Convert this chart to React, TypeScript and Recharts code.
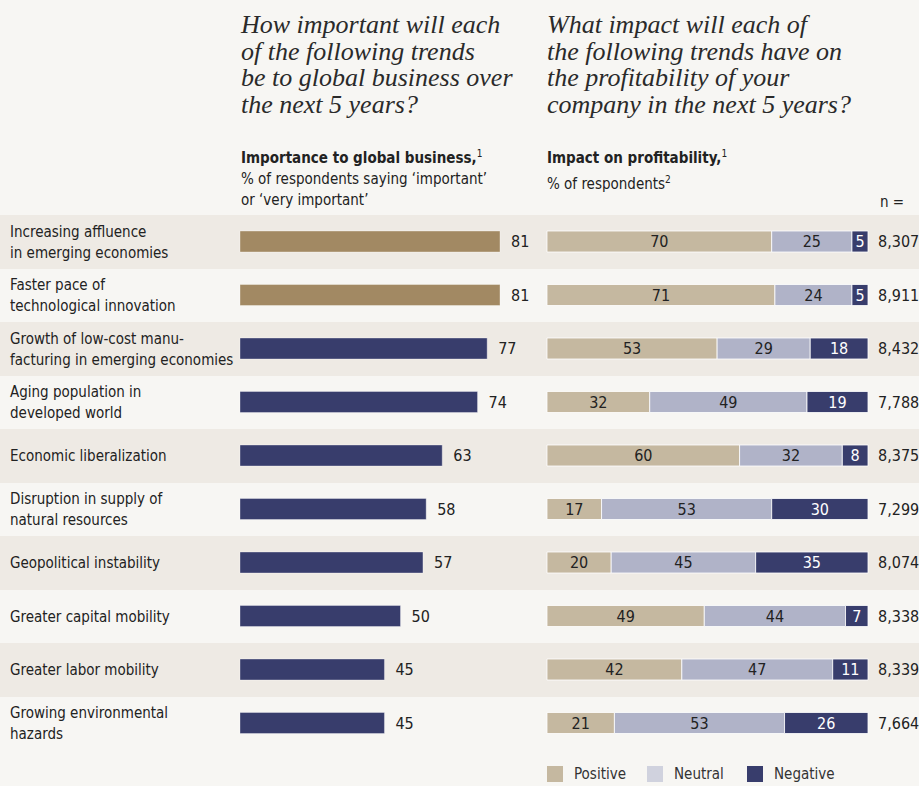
import {
  BarChart,
  Bar,
  XAxis,
  YAxis,
  Cell,
  LabelList,
  Legend,
} from 'recharts';

const trends = [
  'Increasing affluence\nin emerging economies',
  'Faster pace of\ntechnological innovation',
  'Growth of low-cost manu-\nfacturing in emerging economies',
  'Aging population in\ndeveloped world',
  'Economic liberalization',
  'Disruption in supply of\nnatural resources',
  'Geopolitical instability',
  'Greater capital mobility',
  'Greater labor mobility',
  'Growing environmental\nhazards',
];
const importance = [81, 81, 77, 74, 63, 58, 57, 50, 45, 45];
const positive = [70, 71, 53, 32, 60, 17, 20, 49, 42, 21];
const neutral = [25, 24, 29, 49, 32, 53, 45, 44, 47, 53];
const negative = [5, 5, 18, 19, 8, 30, 35, 7, 11, 26];
const respondents = [8307, 8911, 8432, 7788, 8375, 7299, 8074, 8338, 8339, 7664];
const legendOrder = ['Positive', 'Neutral', 'Negative'];

const data = trends.map((trend, i) => ({
  trend,
  row: 1,
  importance: importance[i],
  positive: positive[i],
  neutral: neutral[i],
  negative: negative[i],
  n: respondents[i],
}));

const FONT = "'DejaVu Sans Condensed', 'Liberation Sans Narrow', sans-serif";
const SERIF = "'Liberation Serif', 'DejaVu Serif', serif";
const TEXT = '#222222';
const TAN = '#a28963';
const NAVY = '#383d6c';
const POS = '#c5b8a0';
const NEU = '#b0b3c8';
const ROW = '#eeeae4';
const PAGE = '#f7f6f3';
const legendSwatch: Record<string, string> = { Neutral: '#d0d2de' };

function TrendTick(props: any) {
  const { y, payload } = props;
  const lines = String(payload.value).split('\n');
  const lh = 21;
  const top = y - ((lines.length - 1) * lh) / 2;
  return (
    <text fill={TEXT} fontSize={15} fontFamily={FONT}>
      {lines.map((line, i) => (
        <tspan key={i} x={10} y={top + i * lh} dy="0.35em">
          {line}
        </tspan>
      ))}
    </text>
  );
}

function LegendContent(props: any) {
  const items = (props.payload || [])
    .filter((p: any) => legendOrder.includes(p.value))
    .sort((a: any, b: any) => legendOrder.indexOf(a.value) - legendOrder.indexOf(b.value));
  return (
    <div style={{ display: 'flex', fontFamily: FONT, fontSize: 15, color: '#333' }}>
      {items.map((p: any) => (
        <div key={p.value} style={{ display: 'flex', alignItems: 'center', width: 100 }}>
          <span
            style={{
              width: 16,
              height: 16,
              background: legendSwatch[p.value] ?? p.color,
              marginRight: 11,
              display: 'inline-block',
            }}
          />
          {p.value}
        </div>
      ))}
    </div>
  );
}

const titleStyle: React.CSSProperties = {
  position: 'absolute',
  top: 12,
  fontFamily: SERIF,
  fontStyle: 'italic',
  fontSize: 26,
  lineHeight: '26.5px',
  color: '#2a2a2a',
  margin: 0,
};

const subStyle: React.CSSProperties = {
  position: 'absolute',
  top: 143,
  fontFamily: FONT,
  fontSize: 15,
  lineHeight: '21px',
  color: TEXT,
};

export default function App() {
  return (
    <div
      style={{
        position: 'absolute',
        left: 0,
        top: 0,
        width: 919,
        height: 786,
        background: PAGE,
        overflow: 'hidden',
      }}
    >
      <div style={{ ...titleStyle, left: 241 }}>
        How important will each
        <br />
        of the following trends
        <br />
        be to global business over
        <br />
        the next 5 years?
      </div>
      <div style={{ ...titleStyle, left: 547 }}>
        What impact will each of
        <br />
        the following trends have on
        <br />
        the profitability of your
        <br />
        company in the next 5 years?
      </div>
      <div style={{ ...subStyle, left: 241 }}>
        <b>Importance to global business,</b>
        <sup style={{ fontSize: 10 }}>1</sup>
        <br />% of respondents saying ‘important’
        <br />
        or ‘very important’
      </div>
      <div style={{ ...subStyle, left: 547 }}>
        <b>Impact on profitability,</b>
        <sup style={{ fontSize: 10 }}>1</sup>
        <br />% of respondents<sup style={{ fontSize: 10 }}>2</sup>
      </div>
      <div style={{ ...subStyle, top: 192, left: 880 }}>n =</div>

      <BarChart
        layout="vertical"
        width={919}
        height={786}
        data={data}
        margin={{ top: 215, right: 0, bottom: 36, left: 0 }}
        barCategoryGap={0}
        style={{ position: 'absolute', left: 0, top: 0 }}
      >
        <XAxis xAxisId="bg" type="number" domain={[0, 1]} hide />
        <XAxis
          xAxisId="imp"
          type="number"
          domain={[0, 100]}
          hide
          padding={{ left: 240, right: 358 }}
        />
        <XAxis
          xAxisId="impact"
          type="number"
          domain={[0, 100]}
          hide
          padding={{ left: 547, right: 51 }}
        />
        <YAxis yAxisId="c" type="category" dataKey="trend" hide />
        <YAxis
          yAxisId="a"
          type="category"
          dataKey="trend"
          mirror
          axisLine={false}
          tickLine={false}
          interval={0}
          tick={(p: any) => <TrendTick {...p} />}
        />
        <YAxis yAxisId="b" type="category" dataKey="trend" hide />
        <Bar
          xAxisId="bg"
          yAxisId="c"
          dataKey="row"
          legendType="none"
          isAnimationActive={false}
        >
          {data.map((_, i) => (
            <Cell key={i} fill={i % 2 === 0 ? ROW : 'transparent'} />
          ))}
        </Bar>
        <Legend
          layout="horizontal"
          verticalAlign="middle"
          align="center"
          content={<LegendContent />}
          wrapperStyle={{ left: 547, top: 765, width: 340, height: 20 }}
        />
        <Bar
          xAxisId="imp"
          yAxisId="a"
          dataKey="importance"
          legendType="none"
          barSize={21}
          stroke="#ffffff"
          strokeOpacity={0.35}
          isAnimationActive={false}
        >
          {data.map((_, i) => (
            <Cell key={i} fill={i < 2 ? TAN : NAVY} />
          ))}
          <LabelList
            dataKey="importance"
            position="right"
            offset={11}
            fill={TEXT}
            fontSize={16}
            fontFamily={FONT}
          />
        </Bar>
        <Bar
          xAxisId="impact"
          yAxisId="b"
          dataKey="positive"
          name="Positive"
          stackId="p"
          barSize={21}
          fill={POS}
          stroke="#ffffff"
          strokeOpacity={0.8}
          isAnimationActive={false}
        >
          <LabelList dataKey="positive" position="center" fill={TEXT} fontSize={16} fontFamily={FONT} />
        </Bar>
        <Bar
          xAxisId="impact"
          yAxisId="b"
          dataKey="neutral"
          name="Neutral"
          stackId="p"
          barSize={21}
          fill={NEU}
          stroke="#ffffff"
          strokeOpacity={0.8}
          isAnimationActive={false}
        >
          <LabelList dataKey="neutral" position="center" fill={TEXT} fontSize={16} fontFamily={FONT} />
        </Bar>
        <Bar
          xAxisId="impact"
          yAxisId="b"
          dataKey="negative"
          name="Negative"
          stackId="p"
          barSize={21}
          fill={NAVY}
          stroke="#ffffff"
          strokeOpacity={0.8}
          isAnimationActive={false}
        >
          <LabelList dataKey="negative" position="center" fill="#ffffff" fontSize={16} fontFamily={FONT} />
          <LabelList
            dataKey="n"
            position="right"
            offset={10}
            fill={TEXT}
            fontSize={16}
            fontFamily={FONT}
            formatter={(v: any) => Number(v).toLocaleString('en-US')}
          />
        </Bar>
      </BarChart>
    </div>
  );
}
